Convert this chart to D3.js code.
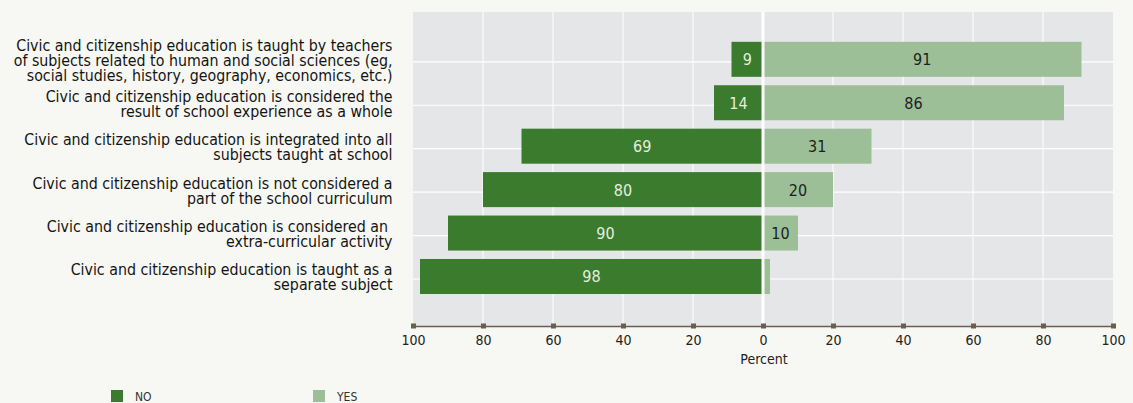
<!DOCTYPE html>
<html><head><meta charset="utf-8">
<script src="https://cdn.jsdelivr.net/npm/d3@7"></script>
<style>
html,body{margin:0;padding:0;background:#f7f8f3;}
svg{display:block;}
text{font-family:"DejaVu Sans Condensed","Liberation Sans Narrow",sans-serif;}
</style></head>
<body>
<svg id="chart" width="1133" height="403"></svg>
<script>
const categories = [
  ["Civic and citizenship education is taught by teachers","of subjects related to human and social sciences (eg,","social studies, history, geography, economics, etc.)"],
  ["Civic and citizenship education is considered the","result of school experience as a whole"],
  ["Civic and citizenship education is integrated into all","subjects taught at school"],
  ["Civic and citizenship education is not considered a","part of the school curriculum"],
  ["Civic and citizenship education is considered an ","extra-curricular activity"],
  ["Civic and citizenship education is taught as a","separate subject"]
];
const noValues = [9, 14, 69, 80, 90, 98];
const yesValues = [91, 86, 31, 20, 10, 2];
const tickValues = [-100,-80,-60,-40,-20,0,20,40,60,80,100];
const seriesNames = ["NO","YES"];

const colors = {no:"#3a7b2e", yes:"#9dbf98"};
const svg = d3.select("#chart");
const pLeft = 413, pRight = 1113, pTop = 12, pBottom = 326;

const x = d3.scaleLinear().domain([-100,100]).range([pLeft,pRight]);
const y = d3.scaleBand().domain(d3.range(categories.length)).range([37.6, 298.2]).paddingInner(0.194).paddingOuter(0.097);

// plot background
svg.append("rect").attr("x",pLeft).attr("y",pTop).attr("width",pRight-pLeft).attr("height",pBottom-pTop).attr("fill","#e5e6e8");

// vertical grid
svg.append("g").selectAll("line").data(tickValues.filter(d=>d!==0 && Math.abs(d)!==100)).join("line")
  .attr("x1",d=>x(d)).attr("x2",d=>x(d)).attr("y1",pTop).attr("y2",pBottom)
  .attr("stroke","#ffffff").attr("stroke-width",1);
// horizontal grid
svg.append("g").selectAll("line").data(d3.range(categories.length)).join("line")
  .attr("x1",pLeft).attr("x2",pRight)
  .attr("y1",i=>y(i)+y.bandwidth()/2+2.5).attr("y2",i=>y(i)+y.bandwidth()/2+2.5)
  .attr("stroke","#ffffff").attr("stroke-width",1.2);

// bars
const rows = d3.range(categories.length);
svg.append("g").selectAll("rect").data(rows).join("rect")
  .attr("x",i=>x(-noValues[i])).attr("y",i=>y(i))
  .attr("width",i=>x(0)-x(-noValues[i])).attr("height",y.bandwidth())
  .attr("fill",colors.no);
svg.append("g").selectAll("rect").data(rows).join("rect")
  .attr("x",x(0)).attr("y",i=>y(i))
  .attr("width",i=>x(yesValues[i])-x(0)).attr("height",y.bandwidth())
  .attr("fill",colors.yes);

// zero line
svg.append("line").attr("x1",x(0)).attr("x2",x(0)).attr("y1",pTop).attr("y2",pBottom)
  .attr("stroke","#ffffff").attr("stroke-width",3);

// value labels
svg.append("g").selectAll("text").data(rows.filter(i=>noValues[i]>=5)).join("text")
  .attr("x",i=>(x(-noValues[i])+x(0))/2).attr("y",i=>y(i)+y.bandwidth()/2+6)
  .attr("text-anchor","middle").attr("font-size",16).attr("fill","#e6eedf")
  .text(i=>noValues[i]);
svg.append("g").selectAll("text").data(rows.filter(i=>yesValues[i]>=5)).join("text")
  .attr("x",i=>(x(yesValues[i])+x(0))/2).attr("y",i=>y(i)+y.bandwidth()/2+6)
  .attr("text-anchor","middle").attr("font-size",16).attr("fill","#1e1e1e")
  .text(i=>yesValues[i]);

// category labels
const lh = 15;
const lab = svg.append("g");
rows.forEach(i=>{
  const lines = categories[i];
  const c = y(i)+y.bandwidth()/2;
  const first = c + 6.5 - (lines.length-1)*lh/2;
  const t = lab.append("text").attr("text-anchor","end").attr("font-size",15.8).attr("fill","#141414");
  lines.forEach((l,k)=>{
    t.append("tspan").attr("x",392.5).attr("y",first+k*lh).text(l);
  });
});

// axis
const axis = d3.axisBottom(x).tickValues(tickValues).tickFormat(d=>Math.abs(d)).tickSize(0).tickPadding(9);
const ag = svg.append("g").attr("transform",`translate(0,${pBottom})`).call(axis);
ag.attr("font-family",null);
ag.select(".domain").attr("stroke","#6b5e4a").attr("stroke-width",1.5);
ag.selectAll("text").attr("font-size",14).attr("fill","#222");
ag.selectAll(".tick").append("rect").attr("x",-2.5).attr("y",-2.5).attr("width",5).attr("height",5).attr("fill","#6b5e4a");

svg.append("text").attr("x",x(0)+1).attr("y",364).attr("text-anchor","middle")
  .attr("font-size",14).attr("fill","#222").text("Percent");

// legend
const leg = svg.append("g");
[[111,colors.no],[313,colors.yes]].forEach((p,k)=>{
  leg.append("rect").attr("x",p[0]).attr("y",390).attr("width",12).attr("height",12).attr("fill",p[1]);
  leg.append("text").attr("x",p[0]+24).attr("y",401).attr("font-size",12).attr("fill","#333").text(seriesNames[k]);
});
</script>
</body></html>
